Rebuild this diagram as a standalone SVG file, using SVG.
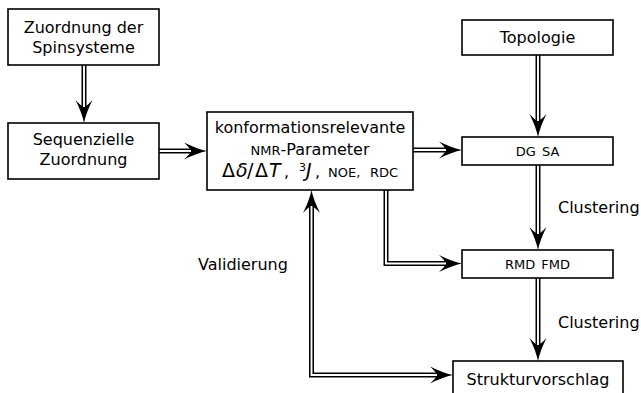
<svg xmlns="http://www.w3.org/2000/svg" width="641" height="393" viewBox="0 0 641 393">
<defs>
<style>
.box{fill:#fff;stroke:#000;stroke-width:1.6}
text{font-family:"DejaVu Sans","Liberation Sans",sans-serif;font-size:16px;fill:#000}
.c{text-anchor:middle}
.sc{font-size:13px}
.m{font-size:19px}
.it{font-style:italic}
.outer{fill:none;stroke:#000;stroke-width:5;stroke-linejoin:miter}
.inner{fill:none;stroke:#fff;stroke-width:1.9;stroke-linejoin:miter}
</style>
<marker id="ah" markerUnits="userSpaceOnUse" markerWidth="40" markerHeight="40" refX="0" refY="0" orient="auto" overflow="visible" viewBox="-10 -10 40 20">
<path d="M16,0 Q6,-2 -7,-8.5 Q-1,-3 0,0 Q-1,3 -7,8.5 Q6,2 16,0 Z" fill="#000"/>
</marker>
<marker id="ahs" markerUnits="userSpaceOnUse" markerWidth="40" markerHeight="40" refX="0" refY="0" orient="auto-start-reverse" overflow="visible" viewBox="-10 -10 40 20">
<path d="M16,0 Q6,-2 -7,-8.5 Q-1,-3 0,0 Q-1,3 -7,8.5 Q6,2 16,0 Z" fill="#000"/>
</marker>
</defs>
<rect width="641" height="393" fill="#fff"/>

<g id="connectors">
<path class="outer" d="M84,65 V107" marker-end="url(#ah)"/>
<path class="inner" d="M84,64 V107"/>
<path class="outer" d="M159,151 H191" marker-end="url(#ah)"/>
<path class="inner" d="M158,151 H191"/>
<path class="outer" d="M413,150 H446" marker-end="url(#ah)"/>
<path class="inner" d="M412,150 H446"/>
<path class="outer" d="M538,55 V121" marker-end="url(#ah)"/>
<path class="inner" d="M538,54 V121"/>
<path class="outer" d="M538,165 V234" marker-end="url(#ah)"/>
<path class="inner" d="M538,164 V234"/>
<path class="outer" d="M538,278 V345" marker-end="url(#ah)"/>
<path class="inner" d="M538,277 V345"/>
<path class="outer" d="M386,190 V263.5 H446" marker-end="url(#ah)"/>
<path class="inner" d="M386,189 V263.5 H446"/>
<path class="outer" d="M311.5,206 V375 H437" marker-start="url(#ahs)" marker-end="url(#ah)"/>
<path class="inner" d="M311.5,206 V375 H437"/>
</g>

<g id="n-spinsysteme">
<rect class="box" x="8" y="9" width="151" height="56"/>
<text class="c" x="83.5" y="33">Zuordnung der</text>
<text class="c" x="83.5" y="53">Spinsysteme</text>
</g>

<g id="n-sequenziell">
<rect class="box" x="8" y="123" width="151" height="56"/>
<text class="c" x="83.5" y="145">Sequenzielle</text>
<text class="c" x="83.5" y="165">Zuordnung</text>
</g>

<g id="n-parameter">
<rect class="box" x="207" y="112" width="206" height="78"/>
<text class="c" x="310" y="133">konformationsrelevante</text>
<text class="c" x="310" y="155"><tspan class="sc">NMR</tspan>-Parameter</text>
<text y="177"><tspan class="m" x="222">Δ</tspan><tspan class="m it" x="236">δ</tspan><tspan class="m" x="247">/</tspan><tspan class="m" x="255">Δ</tspan><tspan class="m it" x="269">T</tspan><tspan x="284">,</tspan><tspan font-size="11" x="299" y="171">3</tspan><tspan class="m it" x="306" y="177">J</tspan><tspan x="315">,</tspan><tspan class="sc" x="328">NOE,</tspan><tspan class="sc" x="370">RDC</tspan></text>
</g>

<g id="n-topologie">
<rect class="box" x="462" y="20" width="151" height="35"/>
<text class="c" x="537.5" y="43">Topologie</text>
</g>

<g id="n-dgsa">
<rect class="box" x="462" y="137" width="151" height="28"/>
<text class="c sc" x="537.5" y="156" word-spacing="2">DG SA</text>
</g>

<g id="n-rmdfmd">
<rect class="box" x="462" y="250" width="151" height="28"/>
<text class="c sc" x="537.5" y="269" word-spacing="2">RMD FMD</text>
</g>

<g id="n-struktur">
<rect class="box" x="453" y="361" width="170" height="45"/>
<text class="c" x="538" y="385">Strukturvorschlag</text>
</g>

<g id="labels">
<text x="558" y="213">Clustering</text>
<text x="558" y="328">Clustering</text>
<text x="198" y="270">Validierung</text>
</g>
</svg>
